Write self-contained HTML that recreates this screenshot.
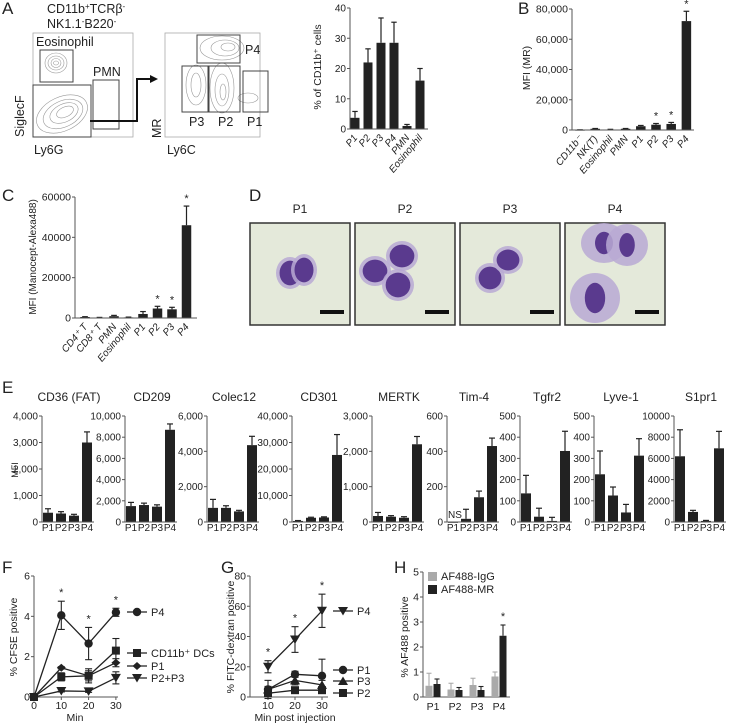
<!DOCTYPE html>
<html><head><meta charset="utf-8">
<style>
html,body{margin:0;padding:0;background:#fff;}
svg{display:block;font-family:"Liberation Sans",Arial,sans-serif;}
text{fill:#222;}
</style></head>
<body>
<svg id="fig" width="734" height="726" viewBox="0 0 734 726" xmlns="http://www.w3.org/2000/svg">
  <!-- Panel letters -->
  <text x="2" y="14" font-size="17">A</text>
  <text x="518" y="14" font-size="17">B</text>
  <text x="2" y="201" font-size="17">C</text>
  <text x="249" y="201" font-size="17">D</text>
  <text x="2" y="393" font-size="17">E</text>
  <text x="2" y="573" font-size="17">F</text>
  <text x="221" y="573" font-size="17">G</text>
  <text x="394" y="573" font-size="17">H</text>

  <!-- Panel A flow plots -->
  <g>
    <text x="47" y="13" font-size="12.5">CD11b<tspan font-size="8" dy="-4">+</tspan><tspan dy="4">TCRβ</tspan><tspan font-size="8" dy="-4">-</tspan></text>
    <text x="47" y="28" font-size="12.5">NK1.1<tspan font-size="8" dy="-4">-</tspan><tspan dy="4">B220</tspan><tspan font-size="8" dy="-4">-</tspan></text>
    <rect x="33" y="33" width="100" height="104" fill="none" stroke="#aaa" stroke-width="0.8"/>
    <g fill="none" stroke="#999" stroke-width="0.6">
      <ellipse cx="56" cy="63" rx="11" ry="10"/><ellipse cx="56" cy="63" rx="8" ry="7"/><ellipse cx="56" cy="63" rx="5" ry="4.5"/><ellipse cx="56" cy="63" rx="2.5" ry="2"/>
    </g>
    <g fill="none" stroke="#999" stroke-width="0.6">
      <ellipse cx="62" cy="114" rx="27" ry="17" transform="rotate(-25 62 114)"/>
      <ellipse cx="63" cy="114" rx="21" ry="13" transform="rotate(-25 63 114)"/>
      <ellipse cx="64" cy="113" rx="15" ry="9" transform="rotate(-25 64 113)"/>
      <ellipse cx="65" cy="112" rx="9" ry="5" transform="rotate(-25 65 112)"/>
    </g>
    <rect x="40" y="50" width="33" height="32" fill="none" stroke="#444" stroke-width="1"/>
    <rect x="93" y="80" width="26" height="49" fill="none" stroke="#444" stroke-width="1"/>
    <rect x="33" y="85" width="58" height="52" fill="none" stroke="#444" stroke-width="1"/>
    <text x="36" y="46" font-size="12.5">Eosinophil</text>
    <text x="93" y="76" font-size="12.5">PMN</text>
    <text transform="translate(24,137) rotate(-90)" font-size="12.5">SiglecF</text>
    <text x="34" y="154" font-size="12.5">Ly6G</text>
    <polyline points="90,121 137,121 137,79 152,79" fill="none" stroke="#111" stroke-width="2"/>
    <polygon points="158,79 150,75 150,83" fill="#111"/>
    <rect x="165" y="33" width="95" height="104" fill="none" stroke="#aaa" stroke-width="0.8"/>
    <g fill="none" stroke="#999" stroke-width="0.6">
      <ellipse cx="222" cy="48" rx="22" ry="12"/><ellipse cx="225" cy="48" rx="14" ry="8"/><ellipse cx="228" cy="47" rx="7" ry="4"/>
      <ellipse cx="196" cy="85" rx="10" ry="20"/><ellipse cx="196" cy="85" rx="5" ry="12"/>
      <ellipse cx="222" cy="88" rx="12" ry="25"/><ellipse cx="222" cy="90" rx="7" ry="16"/><ellipse cx="223" cy="92" rx="3" ry="8"/>
      <ellipse cx="248" cy="98" rx="10" ry="5"/>
    </g>
    <rect x="197" y="35" width="43" height="28" fill="none" stroke="#444" stroke-width="1"/>
    <rect x="182" y="66" width="26" height="46" fill="none" stroke="#444" stroke-width="1"/>
    <rect x="209" y="66" width="31" height="46" fill="none" stroke="#444" stroke-width="1"/>
    <rect x="243" y="71" width="25" height="41" fill="none" stroke="#444" stroke-width="1"/>
    <text x="245" y="54" font-size="12.5">P4</text>
    <text x="189" y="126" font-size="12.5">P3</text>
    <text x="218" y="126" font-size="12.5">P2</text>
    <text x="247" y="126" font-size="12.5">P1</text>
    <text transform="translate(161,138) rotate(-90)" font-size="12.5">MR</text>
    <text x="167" y="154" font-size="12.5">Ly6C</text>
  </g>

  <!-- Panel D -->
  <g id="panelD"></g>
  <g id="charts"></g>
</svg>
<script>
const NS = "http://www.w3.org/2000/svg";
const root = document.getElementById('charts');

// ---------- DATA ----------
// Panel A bar
const aCats = ["P1","P2","P3","P4","PMN","Eosinophil"];
const aVals = [3.7, 22, 28.5, 28.5, 1, 16];
const aErrs = [5.8, 26.5, 36.7, 35.3, 1.5, 20];
const aTicks = [0,10,20,30,40];
// Panel B
const bCats = ["CD11b⁻","NK(T)","Eosinophil","PMN","P1","P2","P3","P4"];
const bVals = [100, 800, 300, 800, 2500, 3500, 4000, 72000];
const bErrs = [150, 1000, 450, 1000, 3000, 4300, 5000, 78500];
const bStars = [false,false,false,false,false,true,true,true];
const bTicks = [0,20000,40000,60000,80000];
// Panel C
const cCats = ["CD4⁺ T","CD8⁺ T","PMN","Eosinophil","P1","P2","P3","P4"];
const cVals = [500, 200, 900, 300, 2000, 4700, 4300, 46000];
const cErrs = [650, 300, 1300, 450, 3200, 5800, 5300, 55500];
const cStars = [false,false,false,false,false,true,true,true];
const cTicks = [0,20000,40000,60000];
// Panel E
const eTitles = ["CD36 (FAT)","CD209","Colec12","CD301","MERTK","Tim-4","Tgfr2","Lyve-1","S1pr1"];
const eCats = ["P1","P2","P3","P4"];
const eMax = [4000,10000,6000,40000,3000,600,500,500,10000];
const eStep = [1000,2000,2000,10000,1000,200,100,100,2000];
const eComma = [true,true,true,true,true,false,false,false,false];
const eVals = [
  [350,320,240,3000],
  [1500,1600,1450,8700],
  [800,800,600,4350],
  [400,1600,1700,25300],
  [170,150,120,2200],
  [0,18,140,430],
  [135,25,5,335],
  [225,125,45,313],
  [6200,950,100,6950]
];
const eErrs = [
  [500,390,290,3400],
  [1850,1780,1620,9250],
  [1280,920,660,4850],
  [550,1800,1950,33000],
  [270,180,150,2420],
  [0,72,175,475],
  [220,65,22,428],
  [335,165,83,393],
  [8700,1100,150,8550]
];
// Panel F
const fTimes = [0,10,20,30];
const fP4 = [0,4.05,2.65,4.2];
const fP4Err = [0,0.7,0.8,0.2];
const fDC = [0,1.0,1.05,2.3];
const fDCErr = [0,0.2,0.35,0.6];
const fP1 = [0,1.45,1.05,1.7];
const fP1Err = [0,0.05,0.25,0.2];
const fP23 = [0,0.3,0.28,0.95];
const fP23Err = [0,0.05,0.05,0.3];
const fTicksY = [0,2,4,6];
const fStarTimes = [10,20,30];
// Panel G
const gTimes = [10,20,30];
const gP4 = [20,38,57];
const gP4Err = [4,8.5,11];
const gP1 = [5,15,14];
const gP1Err = [6,2,11];
const gP3 = [5,11,8];
const gP3Err = [2,3,3];
const gP2 = [2.5,4.5,4.5];
const gP2Err = [1,1,1];
const gTicksY = [0,20,40,60,80];
// Panel H
const hCats = ["P1","P2","P3","P4"];
const hIgG = [0.45,0.3,0.48,0.82];
const hIgGErr = [0.95,0.55,0.75,1.0];
const hMR = [0.52,0.28,0.28,2.45];
const hMRErr = [0.72,0.38,0.42,2.88];
const hTicks = [0,1,2,3,4,5];

// ---------- helpers ----------
function add(tag, attrs, name, parent){
  const el = document.createElementNS(NS, tag);
  for (const k in attrs) el.setAttribute(k, attrs[k]);
  
  
  (parent || root).appendChild(el);
  return el;
}
function txt(x, y, s, size, name, extra){
  const a = Object.assign({x:x, y:y, 'font-size':size}, extra||{});
  const t = add('text', a, name);
  t.textContent = s;
  return t;
}
function fmtNum(v, comma){ return comma ? v.toLocaleString('en-US') : String(v); }
function line(x1,y1,x2,y2,name,w,col){
  return add('line',{x1:x1,y1:y1,x2:x2,y2:y2,stroke:col||'#333','stroke-width':w||1},name);
}
function yAxis(ax, yTop, y0, max, ticks, comma, pre, size){
  line(ax, yTop, ax, y0, pre+'-y-axis', 1, '#555');
  ticks.forEach(v=>{
    const y = y0 - v/max*(y0-yTop);
    line(ax-3, y, ax, y, pre+'-y-tick', 1, '#555');
    txt(ax-4, y+3.5, fmtNum(v, comma), size||10, pre+'-y-tick-label', {'text-anchor':'end'});
  });
}
function bars(o){
  const sy = v => o.y0 - v/o.max*(o.y0-o.yTop);
  o.vals.forEach((v,i)=>{
    const c = o.start + i*o.step;
    const yv = sy(v);
    if (o.errs[i] > v){
      const ye = sy(o.errs[i]);
      line(c, ye, c, yv, o.pre+'-error-bar', 1.2, '#222');
      line(c-o.bw*0.3, ye, c+o.bw*0.3, ye, o.pre+'-error-cap', 1.2, '#222');
    }
    add('rect',{x:c-o.bw/2, y:yv, width:o.bw, height:Math.max(o.y0-yv,0.8), fill:o.fill||'#222'}, o.pre+'-bar-'+o.cats[i]);
    if (o.stars && o.stars[i]){
      txt(c, sy(o.errs[i])-4, '*', 11, o.pre+'-significance-star', {'text-anchor':'middle'});
    }
    if (o.rot){
      txt(c+3, o.y0+9, o.cats[i], 10, o.pre+'-x-label', {'text-anchor':'end', transform:'rotate(-50 '+(c+3)+' '+(o.y0+9)+')', 'font-style':'italic'});
    } else if (o.labelY){
      txt(c, o.labelY, o.cats[i], 10, o.pre+'-x-label', {'text-anchor':'middle'});
    }
  });
  line(o.ax, o.y0, o.xEnd, o.y0, o.pre+'-x-axis', 1, '#555');
}

// ---------- Panel A bar ----------
yAxis(350, 8, 129, 40, aTicks, false, 'a');
bars({pre:'a', ax:350, yTop:8, y0:129, max:40, vals:aVals, errs:aErrs, cats:aCats, start:355, step:13, bw:9, xEnd:428, rot:true});
txt(0,0,'% of CD11b⁺ cells',10.5,'a-y-axis-title',{transform:'translate(321,67) rotate(-90)','text-anchor':'middle'});

// ---------- Panel B ----------
yAxis(572, 9, 130, 80000, bTicks, true, 'b', 10.5);
bars({pre:'b', ax:572, yTop:9, y0:130, max:80000, vals:bVals, errs:bErrs, stars:bStars, cats:bCats, start:580, step:15.2, bw:9.5, xEnd:694, rot:true});
txt(0,0,'MFI (MR)',10.5,'b-y-axis-title',{transform:'translate(530,68) rotate(-90)','text-anchor':'middle'});

// ---------- Panel C ----------
yAxis(75, 197, 318, 60000, cTicks, false, 'c', 10.5);
bars({pre:'c', ax:75, yTop:197, y0:318, max:60000, vals:cVals, errs:cErrs, stars:cStars, cats:cCats, start:85, step:14.5, bw:9.5, xEnd:197, rot:true});
txt(0,0,'MFI (Manocept-Alexa488)',10,'c-y-axis-title',{transform:'translate(36,257) rotate(-90)','text-anchor':'middle'});

// ---------- Panel E ----------
const eAxisX = [42,125,207,292,372,447,520,594,674];
eTitles.forEach((t,k)=>{
  const ax = eAxisX[k];
  txt(ax+27, 401, t, 12, 'e-chart-title-'+t, {'text-anchor':'middle'});
  const ticks = [];
  for (let v=0; v<=eMax[k]; v+=eStep[k]) ticks.push(v);
  yAxis(ax, 416, 522, eMax[k], ticks, eComma[k], 'e-'+t, 10);
  bars({pre:'e-'+t, ax:ax, yTop:416, y0:522, max:eMax[k], vals:eVals[k], errs:eErrs[k], cats:eCats, start:ax+6, step:13, bw:10, xEnd:ax+52, labelY:531});
});
txt(0,0,'MFI',9,'e-y-axis-title',{transform:'translate(18,470) rotate(-90)','text-anchor':'middle'});
txt(455, 518, 'NS', 10, 'tim4-ns-label', {'text-anchor':'middle'});

// ---------- markers ----------
function marker(shape, x, y, name){
  if (shape==='circle') return add('circle',{cx:x,cy:y,r:4.2,fill:'#222'},name);
  if (shape==='square') return add('rect',{x:x-4,y:y-4,width:8,height:8,fill:'#222'},name);
  if (shape==='diamond') return add('polygon',{points:[x,y-4,x+4.5,y,x,y+4,x-4.5,y].join(' '),fill:'#222'},name);
  if (shape==='down') return add('polygon',{points:[x-5,y-4,x+5,y-4,x,y+4.5].join(' '),fill:'#222'},name);
  if (shape==='up') return add('polygon',{points:[x-5,y+4,x+5,y+4,x,y-4.5].join(' '),fill:'#222'},name);
}
function series(xs, ys, times, vals, errs, shape, pre){
  const pts = times.map((t,i)=>xs(t)+','+ys(vals[i])).join(' ');
  add('polyline',{points:pts,fill:'none',stroke:'#222','stroke-width':1.3},pre+'-line');
  times.forEach((t,i)=>{
    if (errs[i]>0){
      const x=xs(t), y1=ys(vals[i]-errs[i]), y2=ys(vals[i]+errs[i]);
      line(x,y1,x,y2,pre+'-error-bar',1.1,'#222');
      line(x-3.5,y1,x+3.5,y1,pre+'-error-cap',1.1,'#222');
      line(x-3.5,y2,x+3.5,y2,pre+'-error-cap',1.1,'#222');
    }
    marker(shape, xs(t), ys(vals[i]), pre+'-point');
  });
}
function legendEntry(x, y, shape, label, pre){
  line(x, y, x+20, y, pre+'-legend-line', 1.3, '#222');
  marker(shape, x+10, y, pre+'-legend-marker');
  txt(x+24, y+4, label, 11, pre+'-legend-label');
}

// ---------- Panel F ----------
const fx = t => 34 + t*2.73;
const fy = v => 697 - v/6*121;
yAxis(34, 576, 697, 6, fTicksY, false, 'f', 10.5);
line(34, 697, 118, 697, 'f-x-axis', 1, '#555');
fTimes.forEach(t=>{ line(fx(t),697,fx(t),700,'f-x-tick',1,'#555'); txt(fx(t),709,String(t),10.5,'f-x-tick-label',{'text-anchor':'middle'}); });
txt(75, 721, 'Min', 10.5, 'f-x-axis-title', {'text-anchor':'middle'});
txt(0,0,'% CFSE positive',10.5,'f-y-axis-title',{transform:'translate(17,637) rotate(-90)','text-anchor':'middle'});
series(fx, fy, fTimes, fP4, fP4Err, 'circle', 'f-p4');
series(fx, fy, fTimes, fDC, fDCErr, 'square', 'f-cd11b-dcs');
series(fx, fy, fTimes, fP1, fP1Err, 'diamond', 'f-p1');
series(fx, fy, fTimes, fP23, fP23Err, 'down', 'f-p2p3');
fStarTimes.forEach((t,i)=>{
  const idx = fTimes.indexOf(t);
  txt(fx(t), fy(fP4[idx]+fP4Err[idx])-5, '*', 11, 'f-significance-star', {'text-anchor':'middle'});
});
legendEntry(127, 612, 'circle', 'P4', 'f-p4');
legendEntry(127, 653, 'square', 'CD11b⁺ DCs', 'f-cd11b-dcs');
legendEntry(127, 666, 'diamond', 'P1', 'f-p1');
legendEntry(127, 678, 'down', 'P2+P3', 'f-p2p3');

// ---------- Panel G ----------
const gx = t => 268 + (t-10)*2.7;
const gy = v => 697 - v/80*121;
yAxis(250, 576, 697, 80, gTicksY, false, 'g', 10.5);
line(250, 697, 328, 697, 'g-x-axis', 1, '#555');
gTimes.forEach(t=>{ line(gx(t),697,gx(t),700,'g-x-tick',1,'#555'); txt(gx(t),709,String(t),10.5,'g-x-tick-label',{'text-anchor':'middle'}); });
txt(295, 721, 'Min post injection', 10.5, 'g-x-axis-title', {'text-anchor':'middle'});
txt(0,0,'% FITC-dextran positive',10.5,'g-y-axis-title',{transform:'translate(234,637) rotate(-90)','text-anchor':'middle'});
series(gx, gy, gTimes, gP4, gP4Err, 'down', 'g-p4');
series(gx, gy, gTimes, gP1, gP1Err, 'circle', 'g-p1');
series(gx, gy, gTimes, gP3, gP3Err, 'up', 'g-p3');
series(gx, gy, gTimes, gP2, gP2Err, 'square', 'g-p2');
gTimes.forEach((t,i)=>{
  txt(gx(t), gy(gP4[i]+gP4Err[i])-5, '*', 11, 'g-significance-star', {'text-anchor':'middle'});
});
legendEntry(333, 611, 'down', 'P4', 'g-p4');
legendEntry(333, 670, 'circle', 'P1', 'g-p1');
legendEntry(333, 681, 'up', 'P3', 'g-p3');
legendEntry(333, 693, 'square', 'P2', 'g-p2');

// ---------- Panel H ----------
const hy = v => 697 - v/5*125;
yAxis(423, 572, 697, 5, hTicks, false, 'h', 10.5);
line(423, 697, 510, 697, 'h-x-axis', 1, '#555');
hCats.forEach((c,i)=>{
  const cx = 433 + i*22;
  [[hIgG,hIgGErr,'#aaa',-4,'igg'],[hMR,hMRErr,'#222',4,'mr']].forEach(s=>{
    const x = cx + s[3], v = s[0][i], e = s[1][i];
    line(x, hy(e), x, hy(v), 'h-'+s[4]+'-error-bar', 1.1, s[2]);
    line(x-2.5, hy(e), x+2.5, hy(e), 'h-'+s[4]+'-error-cap', 1.1, s[2]);
    add('rect',{x:x-3.5,y:hy(v),width:7,height:697-hy(v),fill:s[2]},'h-bar-'+s[4]+'-'+c);
  });
  txt(cx, 710, c, 10.5, 'h-x-label', {'text-anchor':'middle'});
});
txt(433+3*22+4, hy(hMRErr[3])-5, '*', 11, 'h-significance-star', {'text-anchor':'middle'});
add('rect',{x:428,y:572,width:9,height:9,fill:'#aaa'},'h-legend-swatch-igg');
txt(441, 580, 'AF488-IgG', 11, 'h-legend-label-igg');
add('rect',{x:428,y:585,width:9,height:9,fill:'#222'},'h-legend-swatch-mr');
txt(441, 593, 'AF488-MR', 11, 'h-legend-label-mr');
txt(0,0,'% AF488 positive',10.5,'h-y-axis-title',{transform:'translate(408,637) rotate(-90)','text-anchor':'middle'});

// ---------- Panel D ----------
const dRoot = document.getElementById('panelD');
const dLabels = ["P1","P2","P3","P4"];
const dCells = [
  [[40,50,11,13,0.3],[54,47,10,13,0.3]],
  [[20,48,13,12,0],[47,33,13,12,0],[43,62,13,13,0]],
  [[30,55,12,12,0],[48,37,12,11,0]],
  [[39,20,15,14,0],[62,22,13,15,0],[30,75,17,19,0]]
];
dLabels.forEach((l,i)=>{
  const x0 = 250 + i*105;
  const t = add('text',{x:x0+50,y:213,'font-size':12,'text-anchor':'middle'},'cytospin-label-'+l,dRoot);
  t.textContent = l;
  add('rect',{x:x0,y:223,width:100,height:102,fill:'#e4e9da',stroke:'#333','stroke-width':1.5},'cytospin-image-'+l,dRoot);
  dCells[i].forEach(c=>{
    add('ellipse',{cx:x0+c[0],cy:223+c[1],rx:c[2]+ (i===3?8:3),ry:c[3]+(i===3?6:3),fill:'#b9a9d4',opacity:0.85},'cell-cytoplasm',dRoot);
    add('ellipse',{cx:x0+c[0],cy:223+c[1],rx:c[2]*(i===3?0.6:0.95),ry:c[3]*(i===3?0.8:0.95),fill:'#5a3a8e'},'cell-nucleus',dRoot);
  });
  add('rect',{x:x0+70,y:310,width:24,height:4,fill:'#111'},'scale-bar',dRoot);
});
</script>
</body></html>
